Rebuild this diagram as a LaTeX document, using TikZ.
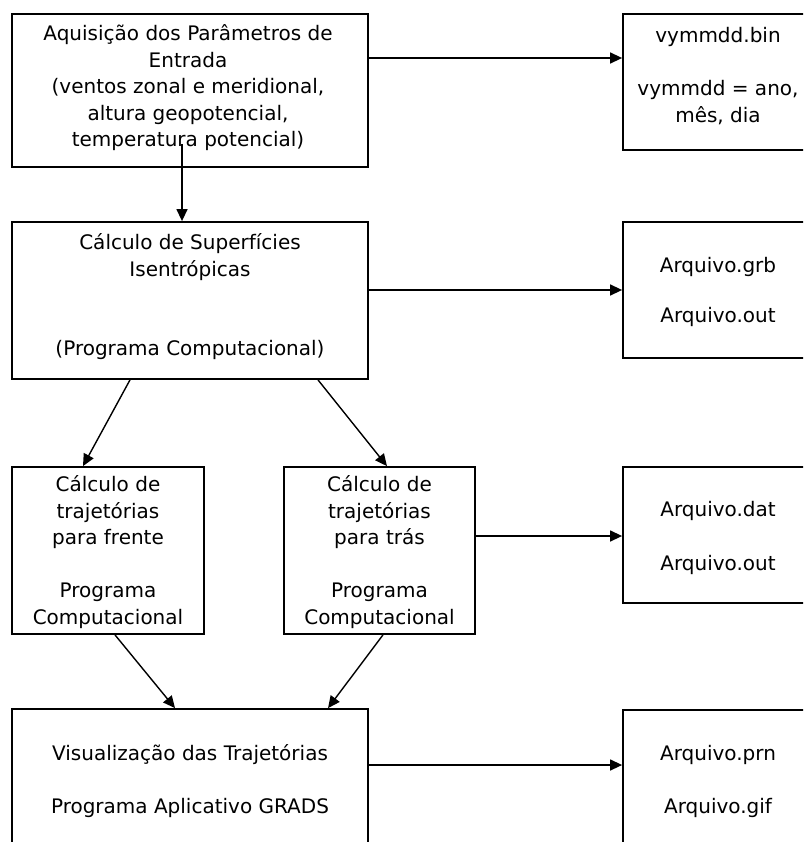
\documentclass[tikz,border=0pt]{standalone}
\usepackage{fontspec}
\setmainfont{DejaVu Sans}
\usetikzlibrary{arrows.meta}
\begin{document}
\begin{tikzpicture}[x=1pt,y=-1pt,
  box/.style={draw=black,line width=1.8pt,rectangle,inner sep=0pt},
  txt/.style={align=center,inner sep=0pt,font=\fontsize{20}{26.5}\selectfont},
  arr/.style={line width=1.4pt,-{Triangle[length=12pt,width=11pt]}}]
\useasboundingbox (0,0) rectangle (803,842);
\clip (0,0) rectangle (803,842);
\fill[white] (0,0) rectangle (803,842);
% left column
\node[box,minimum width=356pt,minimum height=153pt] (b1) at (190,90.5) {};
\node[box,minimum width=356pt,minimum height=157pt] (b2) at (190,300.5) {};
\node[box,minimum width=192pt,minimum height=167pt] (b3) at (108,550.5) {};
\node[box,minimum width=191pt,minimum height=167pt] (b4) at (379.5,550.5) {};
\node[box,minimum width=356pt,minimum height=143pt] (b5) at (190,780.5) {};
% right column
\node[box,minimum width=190pt,minimum height=136pt] (r1) at (718,82) {};
\node[box,minimum width=190pt,minimum height=136pt] (r2) at (718,290) {};
\node[box,minimum width=190pt,minimum height=136pt] (r3) at (718,535) {};
\node[box,minimum width=190pt,minimum height=136pt] (r5) at (718,778) {};
% texts
\node[txt] (t1) at (188,88) {Aquisição dos Parâmetros de\\Entrada\\(ventos zonal e meridional,\\altura geopotencial,\\temperatura potencial)};
\node[txt] (t2) at (190,297) {Cálculo de Superfícies\\Isentrópicas\\[53pt](Programa Computacional)};
\node[txt] (t3) at (108,552) {Cálculo de\\trajetórias\\para frente\\[26.5pt]Programa\\Computacional};
\node[txt] (t4) at (379.5,552) {Cálculo de\\trajetórias\\para trás\\[26.5pt]Programa\\Computacional};
\node[txt] (t5) at (190,781) {Visualização das Trajetórias\\[26.5pt]Programa Aplicativo GRADS};
\node[txt] (s1) at (718,76) {vymmdd.bin\\[26.5pt]vymmdd = ano,\\mês, dia};
\node[txt] (s2) at (718,292) {Arquivo.grb\\[24pt]Arquivo.out};
\node[txt] (s3) at (718,538) {Arquivo.dat\\[27pt]Arquivo.out};
\node[txt] (s5) at (718,781) {Arquivo.prn\\[26.5pt]Arquivo.gif};
% connectors
\draw[arr] ([xshift=-8pt,yshift=24pt]b1.south) -- ([xshift=-8pt]b2.north);
\draw[arr] ([yshift=32.5pt]b1.east) coordinate (h1) -- (h1 -| r1.west);
\draw[arr] (r2.west -| b2.east) -- (r2.west);
\draw[arr] ([xshift=-60pt]b2.south) -- ([xshift=-25pt]b3.north);
\draw[arr] ([xshift=128pt]b2.south) -- ([xshift=7.5pt]b4.north);
\draw[arr] ([yshift=-1pt]r3.west -| b4.east) -- ([yshift=-1pt]r3.west);
\draw[arr] ([xshift=7pt]b3.south) -- ([xshift=-15pt]b5.north);
\draw[arr] ([xshift=3.5pt]b4.south) -- ([xshift=138pt]b5.north);
\draw[arr] ([yshift=15.5pt]b5.east) coordinate (h5) -- (h5 -| r5.west);
\end{tikzpicture}
\end{document}
